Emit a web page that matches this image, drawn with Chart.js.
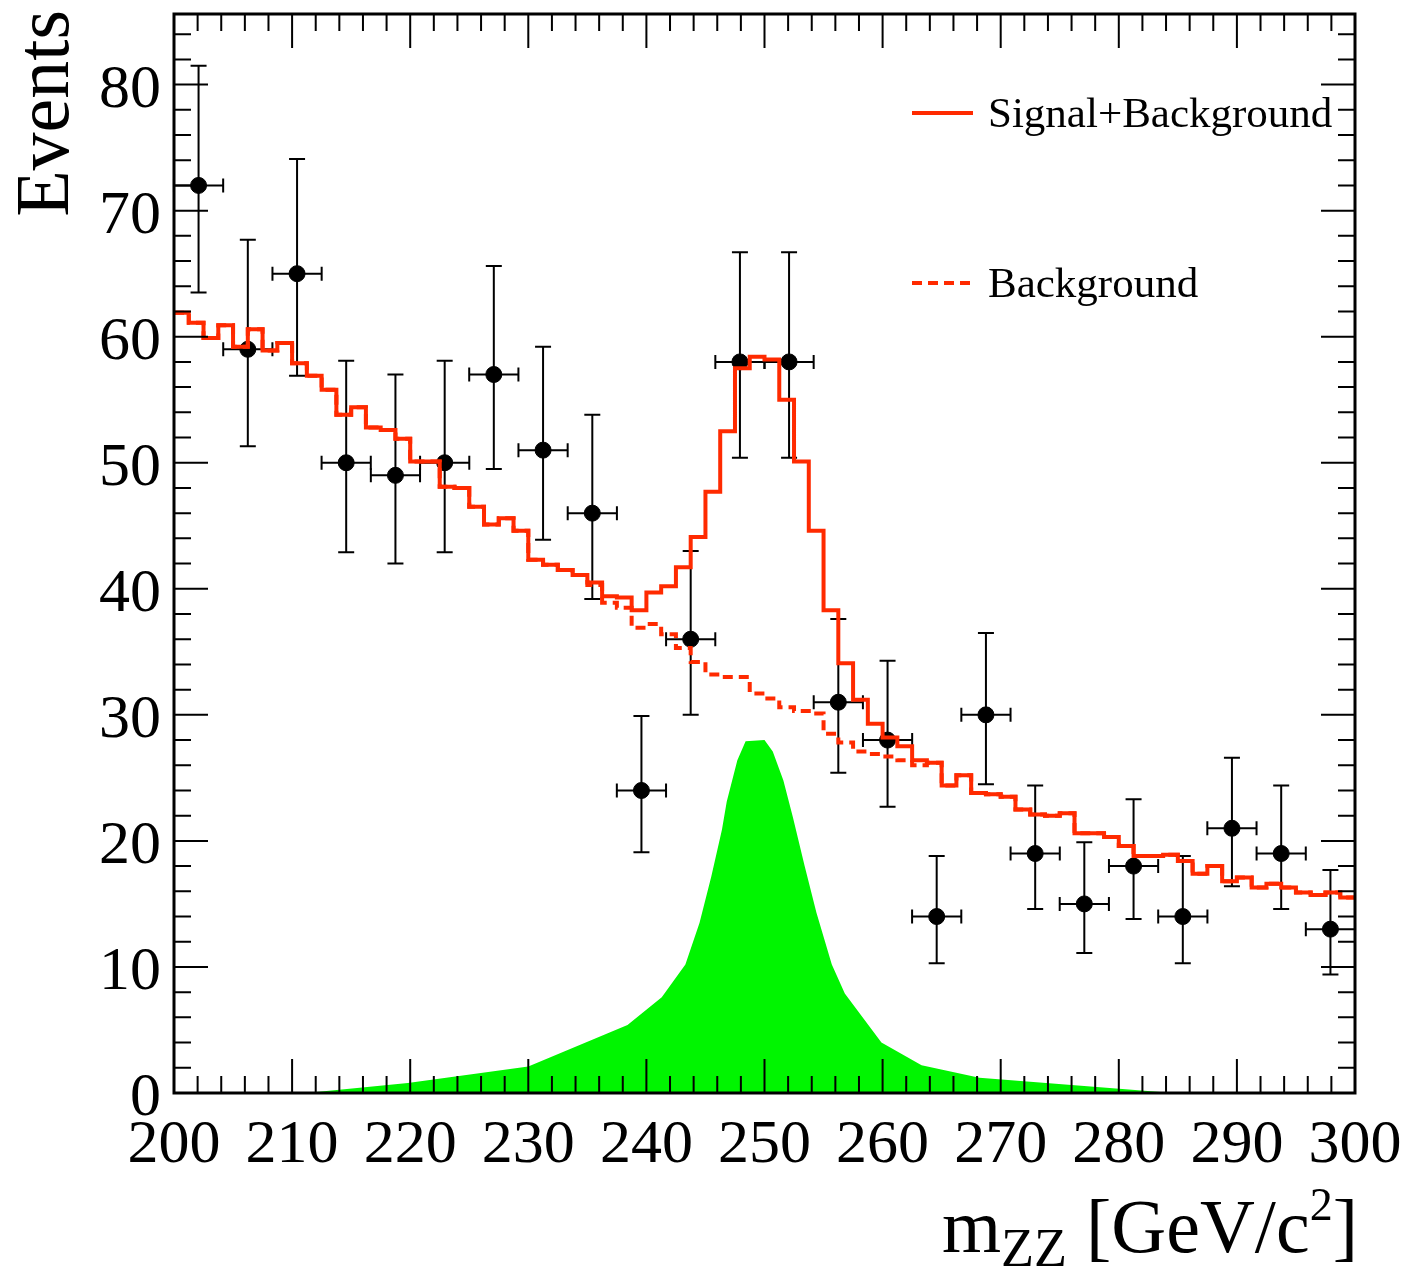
<!DOCTYPE html>
<html>
<head>
<meta charset="utf-8">
<script src="https://cdn.jsdelivr.net/npm/chart.js@4.4.1/dist/chart.umd.min.js"></script>
<style>
  html, body { margin: 0; padding: 0; background: #fff; }
  #wrap { width: 1409px; height: 1280px; }
</style>
</head>
<body>
<div id="wrap"><canvas id="chartMass" width="1409" height="1280"></canvas></div>
<script>
// Rango del histograma
const X_MIN = 200;
const X_MAX = 300;
const Y_MAX = 85.6;
const FINE_BIN = 1.25;   // 80 bins de la predicción
const DATA_HALF_BIN = 2.083; // 24 bins de datos

// Predicción señal + fondo (80 bins)
const sbValues = [
  61.9, 61.1, 59.9, 60.9, 59.2, 60.6, 58.9, 59.5, 57.9, 56.9,
  55.8, 53.8, 54.4, 52.8, 52.6, 51.9, 50.1, 50.1, 48.1, 48.0,
  46.5, 45.1, 45.6, 44.6, 42.3, 41.9, 41.5, 41.1, 40.5, 39.4,
  39.3, 38.3, 39.7, 40.2, 41.7, 44.1, 47.7, 52.5, 57.5, 58.4,
  58.2, 55.0, 50.1, 44.6, 38.3, 34.1, 31.2, 29.3, 28.2, 27.5,
  26.4, 26.2, 24.4, 25.2, 23.8, 23.7, 23.5, 22.5, 22.1, 22.0,
  22.2, 20.6, 20.6, 20.3, 19.6, 18.8, 18.8, 18.9, 18.4, 17.4,
  18.0, 16.8, 17.1, 16.3, 16.6, 16.3, 15.9, 15.7, 15.9, 15.5
];

// Sólo fondo (80 bins)
const bgValues = [
  61.9, 61.1, 59.9, 60.9, 59.2, 60.6, 58.9, 59.5, 57.9, 56.9,
  55.8, 53.8, 54.4, 52.8, 52.6, 51.9, 50.1, 50.1, 48.1, 48.0,
  46.5, 45.1, 45.6, 44.6, 42.3, 41.9, 41.5, 41.1, 40.3, 38.9,
  38.5, 36.9, 37.2, 36.4, 35.3, 34.2, 33.2, 33.0, 33.0, 31.7,
  31.3, 30.6, 30.3, 30.1, 28.5, 27.8, 27.1, 26.9, 26.7, 26.4,
  26.0, 26.2, 24.4, 25.2, 23.8, 23.7, 23.5, 22.5, 22.1, 22.0,
  22.2, 20.6, 20.6, 20.3, 19.6, 18.8, 18.8, 18.9, 18.4, 17.4,
  18.0, 16.8, 17.1, 16.3, 16.6, 16.3, 15.9, 15.7, 15.9, 15.5
];

// Señal sola (curva rellena)
const signalX = [211.2, 219.8, 230.0, 238.4, 241.3, 243.3, 244.5, 245.5, 246.4, 246.8, 247.7, 248.4,
                 250.0, 250.7, 251.6, 252.4, 253.4, 254.4, 255.7, 256.8, 259.9, 263.3, 268.2, 284.6];
const signalY = [0, 0.8, 2.1, 5.4, 7.6, 10.2, 13.5, 17.2, 20.9, 23.1, 26.4, 27.9,
                 28.0, 27.1, 24.8, 21.9, 18.0, 14.3, 10.2, 7.9, 4.0, 2.2, 1.2, 0];

// Datos (errores de Poisson asimétricos)
const dataX = [202.08, 206.25, 210.42, 214.58, 218.75, 222.92, 227.08, 231.25, 235.42, 239.58, 243.75, 247.92,
               252.08, 256.25, 260.42, 264.58, 268.75, 272.92, 277.08, 281.25, 285.42, 289.58, 293.75, 297.92];
const dataY = [72, 59, 65, 50, 49, 50, 57, 51, 46, 24, 36, 58,
               58, 31, 28, 14, 30, 19, 15, 18, 14, 21, 19, 13];
const errUp = [9.5, 8.7, 9.1, 8.1, 8.0, 8.1, 8.6, 8.2, 7.8, 5.9, 7.0, 8.7,
               8.7, 6.6, 6.3, 4.8, 6.5, 5.4, 4.9, 5.3, 4.8, 5.6, 5.4, 4.7];
const errDown = [8.5, 7.7, 8.1, 7.1, 7.0, 7.1, 7.5, 7.1, 6.8, 4.9, 6.0, 7.6,
                 7.6, 5.6, 5.3, 3.7, 5.5, 4.4, 3.9, 4.2, 3.7, 4.6, 4.4, 3.6];

const xTicks = [200, 210, 220, 230, 240, 250, 260, 270, 280, 290, 300];
const yTicks = [0, 10, 20, 30, 40, 50, 60, 70, 80];

const RED = "#ff2a00";
const GREEN = "#00f500";
const FONT = "'Liberation Serif', 'DejaVu Serif', serif";

function stepPoints(values) {
    const pts = values.map((v, i) => ({ x: X_MIN + i * FINE_BIN, y: v }));
    pts.push({ x: X_MAX, y: values[values.length - 1] });
    return pts;
}

// Barras de error de los datos
const errorBars = {
    id: "errorBars",
    beforeDatasetsDraw(chart) {
        const { ctx, scales: { x, y } } = chart;
        ctx.save();
        ctx.strokeStyle = "#000";
        ctx.lineWidth = 2;
        dataX.forEach((cx, i) => {
            const px = x.getPixelForValue(cx);
            const py = y.getPixelForValue(dataY[i]);
            const top = y.getPixelForValue(dataY[i] + errUp[i]);
            const bot = y.getPixelForValue(dataY[i] - errDown[i]);
            const left = x.getPixelForValue(cx - DATA_HALF_BIN);
            const right = x.getPixelForValue(cx + DATA_HALF_BIN);
            ctx.beginPath();
            ctx.moveTo(px, top); ctx.lineTo(px, bot);
            ctx.moveTo(px - 8, top); ctx.lineTo(px + 8, top);
            ctx.moveTo(px - 8, bot); ctx.lineTo(px + 8, bot);
            ctx.moveTo(left, py); ctx.lineTo(right, py);
            ctx.moveTo(left, py - 7); ctx.lineTo(left, py + 7);
            ctx.moveTo(right, py - 7); ctx.lineTo(right, py + 7);
            ctx.stroke();
        });
        ctx.restore();
    },
};

// Marco con marcas hacia dentro, títulos y leyenda
const frameAndText = {
    id: "frameAndText",
    afterDraw(chart) {
        const { ctx, chartArea: a, scales: { x, y } } = chart;
        ctx.save();
        ctx.strokeStyle = "#000";
        ctx.lineWidth = 2;
        ctx.beginPath();
        for (let v = X_MIN; v <= X_MAX; v += 2) {
            const px = x.getPixelForValue(v);
            const len = v % 10 === 0 ? 34 : 17;
            ctx.moveTo(px, a.bottom); ctx.lineTo(px, a.bottom - len);
            ctx.moveTo(px, a.top); ctx.lineTo(px, a.top + len);
        }
        for (let v = 0; v <= Y_MAX; v += 2) {
            const py = y.getPixelForValue(v);
            const len = v % 10 === 0 ? 34 : 17;
            ctx.moveTo(a.left, py); ctx.lineTo(a.left + len, py);
            ctx.moveTo(a.right, py); ctx.lineTo(a.right - len, py);
        }
        ctx.stroke();
        ctx.lineWidth = 3;
        ctx.strokeRect(a.left, a.top, a.right - a.left, a.bottom - a.top);

        // Leyenda
        ctx.strokeStyle = RED;
        ctx.lineWidth = 4;
        ctx.beginPath();
        ctx.moveTo(912, 113); ctx.lineTo(973, 113);
        ctx.stroke();
        ctx.setLineDash([10, 6]);
        ctx.beginPath();
        ctx.moveTo(912, 283); ctx.lineTo(973, 283);
        ctx.stroke();
        ctx.setLineDash([]);
        ctx.fillStyle = "#000";
        ctx.font = "43px " + FONT;
        ctx.textAlign = "left";
        ctx.textBaseline = "alphabetic";
        ctx.fillText("Signal+Background", 988, 127);
        ctx.fillText("Background", 988, 297);

        // Título eje Y
        ctx.save();
        ctx.translate(68, 10);
        ctx.rotate(-Math.PI / 2);
        ctx.font = "76px " + FONT;
        ctx.textAlign = "right";
        ctx.fillText("Events", 0, 0);
        ctx.restore();

        // Título eje X: m_ZZ [GeV/c^2]
        const main = "76px " + FONT, sub = "54px " + FONT, sup = "46px " + FONT;
        const parts = [
            { t: "m", f: main, dy: 0 },
            { t: "ZZ", f: sub, dy: 14 },
            { t: " [GeV/c", f: main, dy: 0 },
            { t: "2", f: sup, dy: -32 },
            { t: "]", f: main, dy: 0 },
        ];
        let total = 0;
        parts.forEach((p) => { ctx.font = p.f; p.w = ctx.measureText(p.t).width; total += p.w; });
        let cx = 1358 - total;
        parts.forEach((p) => {
            ctx.font = p.f;
            ctx.fillText(p.t, cx, 1252 + p.dy);
            cx += p.w;
        });
        ctx.restore();
    },
};

const ctx = document.getElementById("chartMass").getContext("2d");

new Chart(ctx, {
    type: "scatter",
    data: {
        datasets: [
            {
                label: "Signal+Background",
                type: "line",
                data: stepPoints(sbValues),
                stepped: "before",
                borderColor: RED,
                borderWidth: 4,
                pointRadius: 0,
                fill: false,
                order: 1,
            },
            {
                label: "Background",
                type: "line",
                data: stepPoints(bgValues),
                stepped: "before",
                borderColor: RED,
                borderWidth: 4,
                borderDash: [10, 6],
                pointRadius: 0,
                fill: false,
                order: 2,
            },
            {
                label: "Data",
                data: dataX.map((v, i) => ({ x: v, y: dataY[i] })),
                backgroundColor: "#000",
                borderColor: "#000",
                pointRadius: 8,
                order: 3,
            },
            {
                label: "Signal",
                type: "line",
                data: signalX.map((v, i) => ({ x: v, y: signalY[i] })),
                borderWidth: 0,
                backgroundColor: GREEN,
                fill: "origin",
                pointRadius: 0,
                tension: 0,
                order: 4,
            },
        ],
    },
    options: {
        responsive: false,
        animation: false,
        devicePixelRatio: 1,
        layout: { padding: { left: 0, top: 14, right: 54, bottom: 0 } },
        plugins: {
            legend: { display: false },
            tooltip: { enabled: false },
        },
        scales: {
            x: {
                type: "linear",
                min: X_MIN,
                max: X_MAX,
                grid: { display: false },
                border: { display: false },
                afterBuildTicks: (scale) => { scale.ticks = xTicks.map((v) => ({ value: v })); },
                afterFit: (scale) => {
                    scale.height = 187;
                    scale.paddingLeft = 0;
                    scale.paddingRight = 0;
                },
                ticks: {
                    color: "#000",
                    padding: 8,
                    maxRotation: 0,
                    autoSkip: false,
                    font: { family: FONT, size: 62 },
                },
            },
            y: {
                min: 0,
                max: Y_MAX,
                grid: { display: false },
                border: { display: false },
                afterBuildTicks: (scale) => { scale.ticks = yTicks.map((v) => ({ value: v })); },
                afterFit: (scale) => {
                    scale.width = 174;
                    scale.paddingTop = 0;
                    scale.paddingBottom = 0;
                },
                ticks: {
                    color: "#000",
                    padding: 5,
                    labelOffset: 6,
                    autoSkip: false,
                    font: { family: FONT, size: 62 },
                },
            },
        },
    },
    plugins: [errorBars, frameAndText],
});
</script>
</body>
</html>
